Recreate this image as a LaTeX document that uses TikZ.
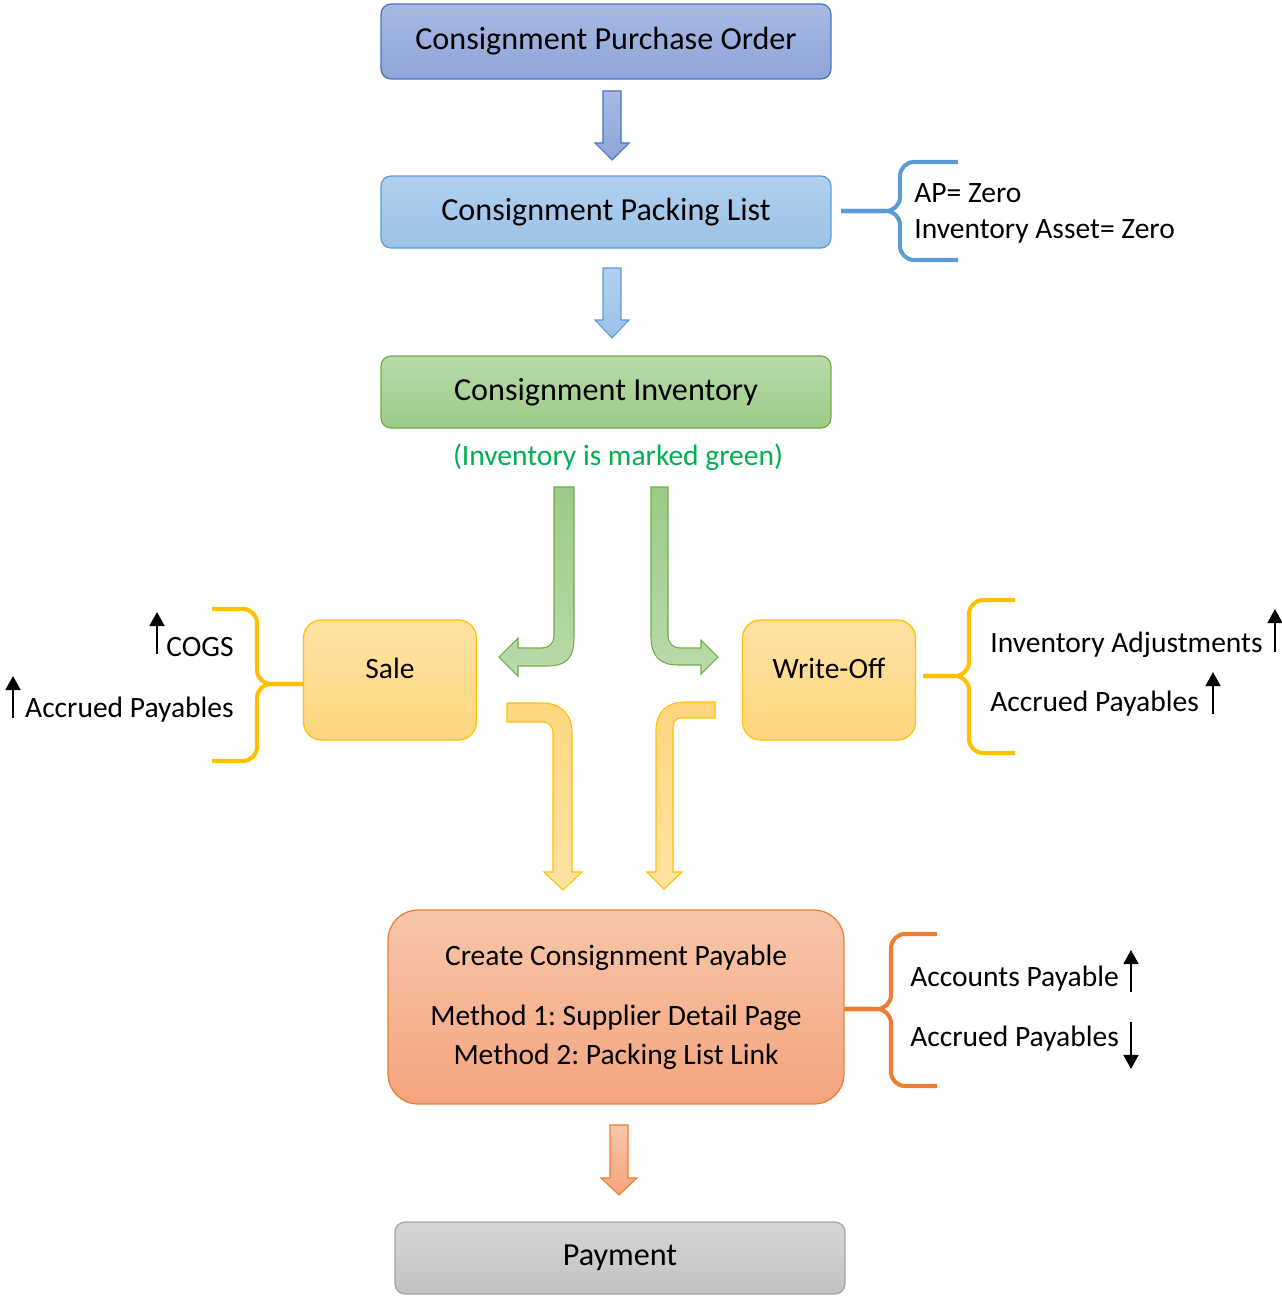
\documentclass[tikz,border=0pt]{standalone}
\usepackage{fontspec}
\setmainfont{Carlito}
\frenchspacing
\usetikzlibrary{arrows.meta}
\definecolor{poTop}{HTML}{A9B9E3}
\definecolor{poBot}{HTML}{8DA5D8}
\definecolor{poLine}{HTML}{4472C4}
\definecolor{plTop}{HTML}{B1D0F0}
\definecolor{plBot}{HTML}{9BC2E6}
\definecolor{plLine}{HTML}{5B9BD5}
\definecolor{invTop}{HTML}{B9DAAB}
\definecolor{invBot}{HTML}{9CCB86}
\definecolor{invLine}{HTML}{70AD47}
\definecolor{yTop}{HTML}{FFE2A3}
\definecolor{yBot}{HTML}{FFD67E}
\definecolor{yLine}{HTML}{FFC000}
\definecolor{oTop}{HTML}{F8C6AA}
\definecolor{oBot}{HTML}{F4A47E}
\definecolor{oLine}{HTML}{ED7D31}
\definecolor{gTop}{HTML}{D5D5D5}
\definecolor{gBot}{HTML}{C2C2C2}
\definecolor{gLine}{HTML}{A5A5A5}
\definecolor{noteGreen}{HTML}{00B050}
\tikzset{
  box/.style={draw, line width=0.7pt, rounded corners=0.2cm, inner sep=0pt,
    minimum width=9cm, minimum height=1.44cm, font=\fontsize{18.3}{22}\selectfont},
  smallbox/.style={box, rounded corners=0.36cm, minimum width=3.46cm,
    minimum height=2.4cm, text depth=0.48cm, font=\fontsize{16.8}{20}\selectfont,
    draw=yLine, top color=yTop, bottom color=yBot},
  lbl/.style={inner sep=0pt, font=\fontsize{16.8}{20}\selectfont},
  brace/.style={line width=2.3pt, rounded corners=8pt},
  blockarr/.style={line width=0.6pt, line join=miter},
  updown/.style={->, line width=1.1pt}
}
\begin{document}
\begin{tikzpicture}[x=0.02cm, y=-0.02cm, >={Triangle[width=8.5pt,length=8pt]}]
\useasboundingbox (0,0) rectangle (1282,1296);

\node[box, minimum height=1.5cm, draw=poLine, top color=poTop, bottom color=poBot] (po) at (606,41.5) {Consignment Purchase Order};
\node[box, draw=plLine, top color=plTop, bottom color=plBot] (pack) at (606,212) {Consignment Packing List};
\node[box, draw=invLine, top color=invTop, bottom color=invBot] (inv) at (606,392) {Consignment Inventory};
\node[lbl, text=noteGreen] (note) at (618,457) {(Inventory is marked green)};
\node[smallbox] (sale) at (390,680) {Sale};
\node[smallbox] (woff) at (829,680) {Write-Off};
\node[box, rounded corners=0.6cm, minimum width=9.12cm, minimum height=3.88cm, align=center,
  font=\fontsize{16.8}{22.2}\selectfont, draw=oLine, top color=oTop, bottom color=oBot] (cpay) at (616,1007)
  {Create Consignment Payable\\[0.42cm]Method 1: Supplier Detail Page\\Method 2: Packing List Link};
\node[box, draw=gLine, top color=gTop, bottom color=gBot] (payment) at (620,1258) {Payment};

% block arrows
\path[blockarr, draw=poLine, top color=poTop, bottom color=poBot]
  (603,91) -- (621,91) -- (621,143) -- (629,143) -- (612,160) -- (595,143) -- (603,143) -- cycle;
\path[blockarr, draw=plLine, top color=plTop, bottom color=plBot]
  (603,268) -- (621,268) -- (621,320) -- (629,320) -- (612,338) -- (595,320) -- (603,320) -- cycle;
\path[blockarr, draw=invLine, top color=invBot, bottom color=invTop]
  (554,487) -- (574,487) -- (574,637) .. controls (574,658) and (567,666) .. (546,666)
  -- (518,666) -- (518,676) -- (499,657) -- (518,638) -- (518,648) -- (542,648)
  .. controls (549,648) and (554,643) .. (554,636) -- cycle;
\path[blockarr, draw=invLine, top color=invBot, bottom color=invTop]
  (651,487) -- (668,487) -- (668,636) .. controls (668,643) and (673,648) .. (680,648)
  -- (701,648) -- (701,640) -- (718,657) -- (701,674) -- (701,665) -- (678,665)
  .. controls (660,665) and (651,656) .. (651,637) -- cycle;
\path[blockarr, draw=yLine, top color=yBot, bottom color=yTop]
  (507,703) -- (542,703) .. controls (561,703) and (572,714) .. (572,733) -- (572,872)
  -- (582,872) -- (563,890) -- (544,872) -- (553,872) -- (553,733)
  .. controls (553,727) and (549,722) .. (543,722) -- (507,722) -- cycle;
\path[blockarr, draw=yLine, top color=yBot, bottom color=yTop]
  (715,702) -- (715,718) -- (681,718) .. controls (676,718) and (673,722) .. (673,728)
  -- (673,872) -- (682,872) -- (664,889) -- (647,872) -- (656,872) -- (656,730)
  .. controls (656,712) and (667,702) .. (685,702) -- cycle;
\path[blockarr, draw=oLine, top color=oTop, bottom color=oBot]
  (610,1125) -- (628,1125) -- (628,1178) -- (637,1178) -- (619,1195) -- (601,1178) -- (610,1178) -- cycle;

% braces
\coordinate (packtip) at (841,211);
\coordinate (wofftip) at (923,676);
\draw[brace, draw=plLine] (958,162) -- (900,162) -- (900,211) -- (packtip);
\draw[brace, draw=plLine] (packtip) -- (900,211) -- (900,260) -- (958,260);
\draw[brace, draw=yLine] (212,609) -- (257,609) -- (257,684) -- (sale.west |- 0,684);
\draw[brace, draw=yLine] (sale.west |- 0,684) -- (257,684) -- (257,761) -- (212,761);
\draw[brace, draw=yLine] (1015,600) -- (969,600) -- (969,676) -- (wofftip);
\draw[brace, draw=yLine] (wofftip) -- (969,676) -- (969,753) -- (1015,753);
\draw[brace, draw=oLine] (937,934) -- (891,934) -- (891,1009) -- (cpay.east |- 0,1009);
\draw[brace, draw=oLine] (cpay.east |- 0,1009) -- (891,1009) -- (891,1086) -- (937,1086);

\node[lbl, anchor=base west] (apz) at (914,202) {AP= Zero};
\node[lbl, anchor=base west] (iaz) at (914,238) {Inventory Asset= Zero};
\node[lbl, anchor=base east] (cogs) at (234,656) {COGS};
\node[lbl, anchor=base east] (accl) at (234,717) {Accrued Payables};
\node[lbl, anchor=base west] (iadj) at (990,652) {Inventory Adjustments};
\node[lbl, anchor=base west] (accr) at (990,711) {Accrued Payables};
\node[lbl, anchor=base west] (ap) at (910,986) {Accounts Payable};
\node[lbl, anchor=base west] (acco) at (910,1046) {Accrued Payables};

\draw[updown] (157,654) -- (157,612);
\draw[updown] (13,718) -- (13,676);
\draw[updown] (1275,652) -- (1275,609);
\draw[updown] (1213,714) -- (1213,672);
\draw[updown] (1131,992) -- (1131,950);
\draw[updown] (1131,1022) -- (1131,1069);
\end{tikzpicture}
\end{document}
